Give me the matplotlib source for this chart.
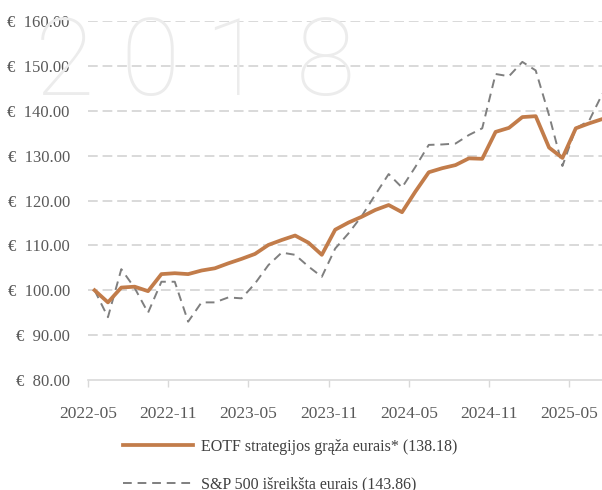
import matplotlib
matplotlib.use("Agg")
import matplotlib.pyplot as plt
import numpy as np

# monthly values, 2022-05 .. 2025-07
eotf = [100.0, 97.3, 100.6, 100.8, 99.8, 103.6, 103.8, 103.6, 104.4, 104.9,
        106.0, 107.0, 108.1, 110.1, 111.2, 112.2, 110.6, 107.9, 113.5, 115.1,
        116.4, 117.9, 119.0, 117.4, 122.0, 126.3, 127.2, 127.9, 129.4, 129.3,
        135.3, 136.2, 138.6, 138.8, 131.8, 129.5, 136.1, 137.2, 138.18]
sp500 = [100.0, 94.0, 104.7, 100.5, 95.0, 101.9, 101.9, 93.0, 97.3, 97.3,
         98.4, 98.2, 101.5, 105.6, 108.4, 107.9, 105.3, 103.0, 109.3, 112.7,
         116.6, 121.3, 125.9, 122.9, 127.5, 132.4, 132.5, 132.7, 134.6, 136.1,
         148.2, 147.7, 150.9, 149.0, 139.0, 127.7, 136.1, 137.8, 143.86]
xlabels = ["2022-05", "2022-11", "2023-05", "2023-11", "2024-05", "2024-11", "2025-05"]
yticks = [80, 90, 100, 110, 120, 130, 140, 150, 160]

lbl_eotf = "EOTF strategijos grąža eurais* (138.18)"
lbl_sp = "S&P 500 išreikšta eurais (143.86)"

serif = "Liberation Serif"
txt_gray = "#595959"
grid_gray = "#d9d9d9"

fig = plt.figure(figsize=(6.02, 4.90), dpi=100)

# faint year watermark behind the plot
for ch, xx in zip("2018", [0.107, 0.249, 0.388, 0.540]):
    fig.text(xx, 0.866, ch, fontsize=78, color="#ececec", ha="center", va="center",
             family="Roboto", fontweight="light", zorder=0)

ax = fig.add_axes([0.146, 0.2245, 0.866, 0.7325])
ax.patch.set_alpha(0)

x = np.arange(len(eotf))
ax.plot(x, sp500, color="#7f7f7f", lw=1.4, dashes=(4.5, 3), label=lbl_sp, zorder=3)
ax.plot(x, eotf, color="#c27c4a", lw=2.7, label=lbl_eotf, zorder=4,
        solid_joinstyle="round")

ax.set_ylim(80, 160)
ax.set_xlim(-0.5, 38.5)
ax.set_yticks(yticks)
ax.set_yticklabels(["€  %.2f" % v for v in yticks], family=serif, fontsize=12,
                   color=txt_gray)
for v in yticks[1:]:
    ax.axhline(v, color=grid_gray, lw=1.4, dashes=(5, 2.5), zorder=1)

ax.set_xticks(np.arange(len(xlabels)) * 6 - 0.5)
ax.set_xticklabels(xlabels, family=serif, fontsize=12.5, color=txt_gray)
ax.tick_params(axis="y", length=0, pad=13)
ax.tick_params(axis="x", length=5, color=grid_gray, width=1, pad=14)

for s in ["top", "right", "left"]:
    ax.spines[s].set_visible(False)
ax.spines["bottom"].set_color(grid_gray)
ax.spines["bottom"].set_linewidth(1.2)

h, l = ax.get_legend_handles_labels()
leg = ax.legend(h[::-1], l[::-1], loc="upper left", bbox_to_anchor=(0.18, 0.134),
                bbox_transform=fig.transFigure, frameon=False, handlelength=4.4,
                handletextpad=0.5, labelspacing=1.35,
                prop={"family": serif, "size": 11.5})
for t in leg.get_texts():
    t.set_color("#404040")

fig.savefig("out.png", dpi=100)
